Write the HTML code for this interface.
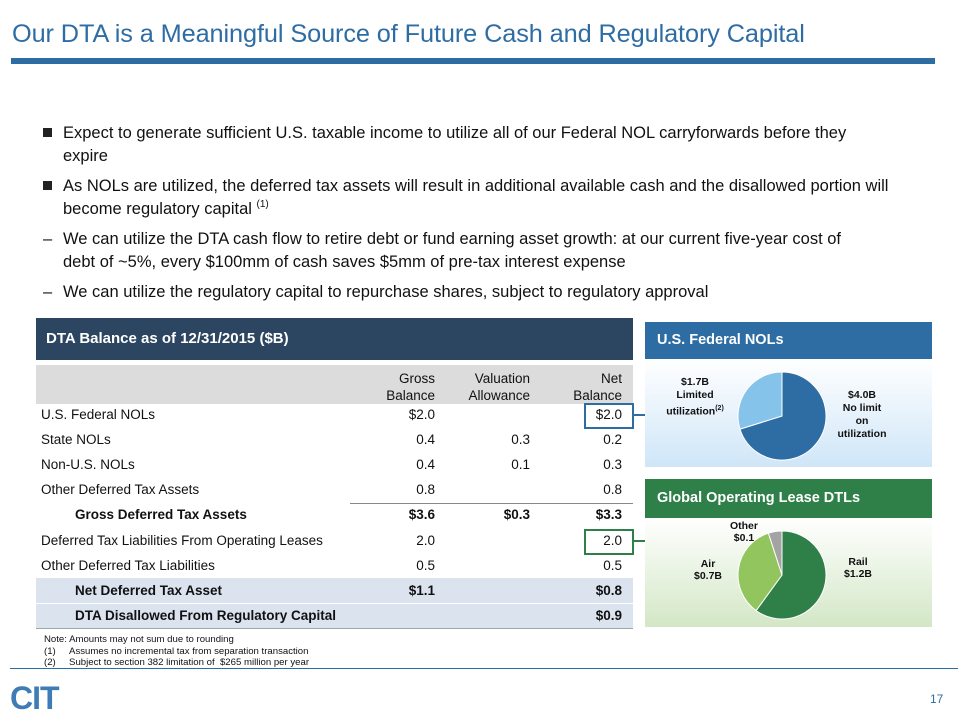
<!DOCTYPE html>
<html><head><meta charset="utf-8"><style>
body{margin:0;width:958px;height:725px;background:#fff;position:relative;overflow:hidden;font-family:"Liberation Sans",Arial,sans-serif;color:#111}
.a{position:absolute}
.t{font-size:13.5px;white-space:nowrap}
.r{text-align:right}
.b{font-weight:bold}
.p{position:relative;margin-left:20px}
.sq{position:absolute;left:-20px;top:6px;width:9px;height:9px;background:#222}
.ds{position:absolute;left:-20px;top:0}
.sup{font-size:10px;position:relative;top:-7px;line-height:0}
</style></head><body>
<div class="a" style="left:12px;top:20px;font-size:25.3px;color:#2e6da4;letter-spacing:-0.1px">Our DTA is a Meaningful Source of Future Cash and Regulatory Capital</div>
<div class="a" style="left:11px;top:58px;width:924px;height:6px;background:#2e6da4"></div>

<div style="position:absolute;left:43px;top:122px;width:900px;font-size:16.5px;line-height:23px">
<div class="p" style="width:808px"><span class="sq"></span>Expect to generate sufficient U.S. taxable income to utilize all of our Federal NOL carryforwards before they expire</div>
<div class="p" style="margin-top:7px;width:852px"><span class="sq"></span>As NOLs are utilized, the deferred tax assets will result in additional available cash and the disallowed portion will become regulatory capital <span class="sup">(1)</span></div>
<div class="p" style="margin-top:7px;width:805px"><span class="ds">–</span>We can utilize the DTA cash flow to retire debt or fund earning asset growth: at our current five-year cost of debt of ~5%, every $100mm of cash saves $5mm of pre-tax interest expense</div>
<div class="p" style="margin-top:7px"><span class="ds">–</span>We can utilize the regulatory capital to repurchase shares, subject to regulatory approval</div>
</div>

<div class="a" style="left:36px;top:318px;width:597px;height:42px;background:#2c4560;color:#fff;font-weight:bold;font-size:15px;line-height:42px;padding-left:10px;box-sizing:border-box">DTA Balance as of 12/31/2015 ($B)</div>
<div class="a" style="left:36px;top:365px;width:597px;height:39px;background:#dcdcdc"></div>
<div class="a t r" style="left:340px;top:370px;width:95px;line-height:17px">Gross<br>Balance</div>
<div class="a t r" style="left:430px;top:370px;width:100px;line-height:17px">Valuation<br>Allowance</div>
<div class="a t r" style="left:530px;top:370px;width:92px;line-height:17px">Net<br>Balance</div>
<div class="a" style="left:36px;top:578px;width:597px;height:50px;background:#dbe3ef"></div>
<div class="a" style="left:36px;top:603px;width:597px;height:1px;background:#fff"></div>
<div class="a" style="left:350px;top:503px;width:283px;height:1px;background:#888"></div>
<div class="a" style="left:36px;top:628px;width:597px;height:1px;background:#9aa"></div>
<div id="rows"></div>

<div class="a" style="left:584px;top:403px;width:46px;height:22px;border:2px solid #2e6da4"></div>
<div class="a" style="left:632px;top:414px;width:13px;height:2px;background:#2e6da4"></div>
<div class="a" style="left:584px;top:529px;width:46px;height:22px;border:2px solid #2e8048"></div>
<div class="a" style="left:632px;top:540px;width:13px;height:2px;background:#2e8048"></div>

<div class="a" style="left:645px;top:322px;width:287px;height:37px;background:#2e6da4;color:#fff;font-weight:bold;font-size:14.5px;line-height:37px;padding-left:12px;box-sizing:border-box">U.S. Federal NOLs</div>
<div class="a" style="left:645px;top:359px;width:287px;height:108px;background:linear-gradient(#fff,#cfe6f8)"></div>
<div class="a" style="left:645px;top:479px;width:287px;height:39px;background:#2e8048;color:#fff;font-weight:bold;font-size:14.5px;line-height:39px;padding-left:12px;box-sizing:border-box">Global Operating Lease DTLs</div>
<div class="a" style="left:645px;top:518px;width:287px;height:109px;background:linear-gradient(#fff,#d3e7c6)"></div>

<svg class="a" style="left:0;top:0" width="958" height="725" id="pies"></svg>

<div class="a" style="left:660px;top:376px;width:70px;text-align:center;font-size:10.5px;font-weight:bold;line-height:13px">$1.7B<br>Limited<br>utilization<sup style="font-size:7px">(2)</sup></div>
<div class="a" style="left:830px;top:389px;width:64px;text-align:center;font-size:10.5px;font-weight:bold;line-height:13px">$4.0B<br>No limit<br>on<br>utilization</div>
<div class="a" style="left:726px;top:520px;width:36px;text-align:center;font-size:10.5px;font-weight:bold;line-height:12px">Other<br>$0.1</div>
<div class="a" style="left:690px;top:558px;width:36px;text-align:center;font-size:10.5px;font-weight:bold;line-height:12px">Air<br>$0.7B</div>
<div class="a" style="left:838px;top:556px;width:40px;text-align:center;font-size:10.5px;font-weight:bold;line-height:12px">Rail<br>$1.2B</div>

<div class="a" style="left:44px;top:634px;font-size:9.6px;line-height:11.5px;white-space:nowrap">Note: Amounts may not sum due to rounding<br>(1)&nbsp;&nbsp;&nbsp;&nbsp;&nbsp;Assumes no incremental tax from separation transaction<br>(2)&nbsp;&nbsp;&nbsp;&nbsp;&nbsp;Subject to section 382 limitation of &nbsp;$265 million per year</div>
<div class="a" style="left:10px;top:668px;width:948px;height:1px;background:#2e6da4"></div>
<div class="a" style="left:10px;top:680px;font-size:32px;font-weight:900;color:#3f7cb5;letter-spacing:-1px;font-family:'Liberation Sans',sans-serif">CIT</div>
<div class="a" style="left:930px;top:692px;font-size:12px;color:#2e6da4">17</div>

<script>
const rowLabels=["U.S. Federal NOLs","State NOLs","Non-U.S. NOLs","Other Deferred Tax Assets","Gross Deferred Tax Assets","Deferred Tax Liabilities From Operating Leases","Other Deferred Tax Liabilities","Net Deferred Tax Asset","DTA Disallowed From Regulatory Capital"];
const grossVals=["$2.0","0.4","0.4","0.8","$3.6","2.0","0.5","$1.1",""];
const valVals=["","0.3","0.1","","$0.3","","","",""];
const netVals=["$2.0","0.2","0.3","0.8","$3.3","2.0","0.5","$0.8","$0.9"];
const boldRows=[4,7,8];
const c=document.getElementById('rows');
rowLabels.forEach((l,i)=>{
 const y=405+i*25.1, b=boldRows.includes(i);
 const cells=[[l,b?75:41,300,''],[grossVals[i],340,95,'r'],[valVals[i],430,100,'r'],[netVals[i],530,92,'r']];
 cells.forEach(([txt,x,w,cl],j)=>{
  const d=document.createElement('div');
  d.className='a t '+cl+(b?' b':'');
  d.style.cssText=`left:${x}px;top:${y}px;width:${w}px;line-height:20px`;
  d.textContent=txt;
  
  
  c.appendChild(d);
 });
});
const nolVals=[4.0,1.7];
const nolColors=["#2e6da4","#85c3ea"];
const leaseVals=[1.2,0.7,0.1];
const leaseColors=["#2e8048","#92c55e","#a3a3a3"];
const svg=document.getElementById('pies');
function pie(cx,cy,r,vals,cols,name){
 const tot=vals.reduce((a,b)=>a+b,0);let a0=0;
 vals.forEach((v,i)=>{
  const a1=a0+v/tot*2*Math.PI;
  const p=t=>[cx+r*Math.sin(t),cy-r*Math.cos(t)];
  const [x0,y0]=p(a0),[x1,y1]=p(a1);
  const el=document.createElementNS('http://www.w3.org/2000/svg','path');
  el.setAttribute('d',`M${cx},${cy}L${x0},${y0}A${r},${r} 0 ${a1-a0>Math.PI?1:0} 1 ${x1},${y1}Z`);
  el.setAttribute('fill',cols[i]);el.setAttribute('stroke','#fff');el.setAttribute('stroke-width','1');
  
  
  svg.appendChild(el);a0=a1;
 });
}
pie(782,416,44,nolVals,nolColors,'nol');
pie(782,575,44,leaseVals,leaseColors,'lease');
</script>
</body></html>
